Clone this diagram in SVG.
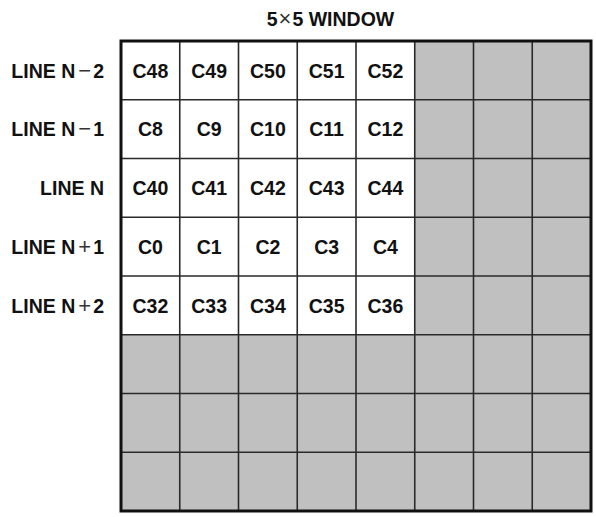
<svg xmlns="http://www.w3.org/2000/svg" width="596" height="517" viewBox="0 0 596 517">
<style>
text{font-family:"Liberation Sans",Arial,sans-serif;font-weight:bold;font-size:19.5px;fill:#111}
.c{text-anchor:middle}
.r{text-anchor:end}
.op{font-weight:normal;fill:#333;font-size:22px}
</style>
<rect width="596" height="517" fill="#fff"/>
<g id="title"><text class="c" x="330.5" y="26">5<tspan class="op" font-size="24" dx="1">×</tspan><tspan dx="1">5 WINDOW</tspan></text></g>
<g id="row-labels">
<text class="r" x="104" y="77.5">LINE N<tspan class="op" dx="3">−</tspan><tspan dx="2">2</tspan></text>
<text class="r" x="104" y="136.2">LINE N<tspan class="op" dx="3">−</tspan><tspan dx="2">1</tspan></text>
<text class="r" x="104" y="195">LINE N</text>
<text class="r" x="104" y="253.7">LINE N<tspan class="op" dx="3">+</tspan><tspan dx="2">1</tspan></text>
<text class="r" x="104" y="312.5">LINE N<tspan class="op" dx="3">+</tspan><tspan dx="2">2</tspan></text>
</g>
<g id="grid">
<rect x="121" y="41" width="470" height="470" fill="#c0c0c0"/>
<rect x="121" y="41" width="293.75" height="293.75" fill="#fff"/>
<g stroke="#2a2a2a" stroke-width="1.6">
<line x1="179.75" y1="41" x2="179.75" y2="511"/>
<line x1="238.5" y1="41" x2="238.5" y2="511"/>
<line x1="297.25" y1="41" x2="297.25" y2="511"/>
<line x1="356" y1="41" x2="356" y2="511"/>
<line x1="414.75" y1="41" x2="414.75" y2="511"/>
<line x1="473.5" y1="41" x2="473.5" y2="511"/>
<line x1="532.25" y1="41" x2="532.25" y2="511"/>
<line x1="121" y1="99.75" x2="591" y2="99.75"/>
<line x1="121" y1="158.5" x2="591" y2="158.5"/>
<line x1="121" y1="217.25" x2="591" y2="217.25"/>
<line x1="121" y1="276" x2="591" y2="276"/>
<line x1="121" y1="334.75" x2="591" y2="334.75"/>
<line x1="121" y1="393.5" x2="591" y2="393.5"/>
<line x1="121" y1="452.25" x2="591" y2="452.25"/>
</g>
<rect x="121" y="41" width="470" height="470" fill="none" stroke="#111" stroke-width="3"/>
</g>
<g id="cells">
<g id="r0"><text class="c" x="150.4" y="77.5">C48</text><text class="c" x="209.1" y="77.5">C49</text><text class="c" x="267.9" y="77.5">C50</text><text class="c" x="326.6" y="77.5">C51</text><text class="c" x="385.4" y="77.5">C52</text></g>
<g id="r1"><text class="c" x="150.4" y="136.2">C8</text><text class="c" x="209.1" y="136.2">C9</text><text class="c" x="267.9" y="136.2">C10</text><text class="c" x="326.6" y="136.2">C11</text><text class="c" x="385.4" y="136.2">C12</text></g>
<g id="r2"><text class="c" x="150.4" y="195">C40</text><text class="c" x="209.1" y="195">C41</text><text class="c" x="267.9" y="195">C42</text><text class="c" x="326.6" y="195">C43</text><text class="c" x="385.4" y="195">C44</text></g>
<g id="r3"><text class="c" x="150.4" y="253.7">C0</text><text class="c" x="209.1" y="253.7">C1</text><text class="c" x="267.9" y="253.7">C2</text><text class="c" x="326.6" y="253.7">C3</text><text class="c" x="385.4" y="253.7">C4</text></g>
<g id="r4"><text class="c" x="150.4" y="312.5">C32</text><text class="c" x="209.1" y="312.5">C33</text><text class="c" x="267.9" y="312.5">C34</text><text class="c" x="326.6" y="312.5">C35</text><text class="c" x="385.4" y="312.5">C36</text></g>
</g>
</svg>
